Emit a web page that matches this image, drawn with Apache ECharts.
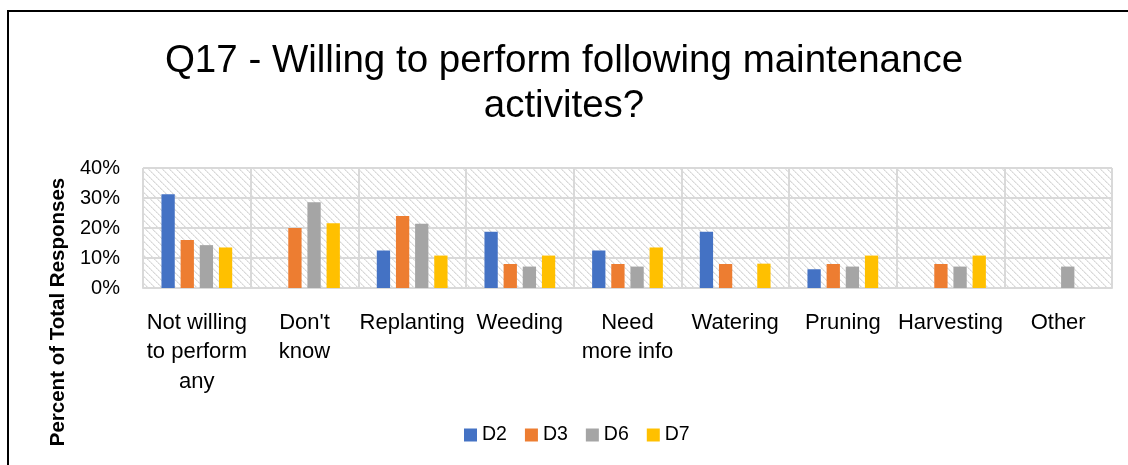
<!DOCTYPE html>
<html>
<head>
<meta charset="utf-8">
<script src="https://cdn.jsdelivr.net/npm/echarts@6/dist/echarts.min.js"></script>
<style>
html,body{margin:0;padding:0;background:#fff;}
#chart{width:1128px;height:465px;}
</style>
</head>
<body>
<div id="chart"></div>
<script>
const categories = ["Not willing\nto perform\nany", "Don't\nknow", "Replanting", "Weeding", "Need\nmore info", "Watering", "Pruning", "Harvesting", "Other"];
const seriesNames = ["D2", "D3", "D6", "D7"];
const d2 = [31.25, 0, 12.5, 18.75, 12.5, 18.75, 6.25, 0, 0];
const d3 = [16, 20, 24, 8, 8, 8, 8, 8, 0];
const d6 = [14.29, 28.57, 21.43, 7.14, 7.14, 0, 7.14, 7.14, 7.14];
const d7 = [13.51, 21.62, 10.81, 10.81, 13.51, 8.11, 10.81, 10.81, 0];
const yTicks = [0, 10, 20, 30, 40];
const titleText = "Q17 - Willing to perform following maintenance\nactivites?";
const yAxisTitle = "Percent of Total Responses";

const colors = ["#4472C4", "#ED7D31", "#A5A5A5", "#FFC000"];
const FONT = '"Liberation Sans", Arial, sans-serif';

// hatch pattern tile
const tile = document.createElement('canvas');
tile.width = 7; tile.height = 7;
const tctx = tile.getContext('2d');
tctx.fillStyle = '#ffffff';
tctx.fillRect(0, 0, 7, 7);
for (let i = 0; i < 7; i++) {
  tctx.fillStyle = (i % 2 === 0) ? '#d8d8d8' : '#e6e6e6';
  tctx.fillRect(i, i, 1, 1);
  tctx.fillStyle = '#ececec';
  tctx.fillRect((i + 1) % 7, i, 1, 1);
}

const chart = echarts.init(document.getElementById('chart'), null, {renderer: 'canvas'});
const data = [d2, d3, d6, d7];

chart.setOption({
  animation: false,
  backgroundColor: '#ffffff',
  title: {
    text: titleText,
    left: 'center',
    top: 39,
    padding: [0, 0, 0, 22],
    textStyle: {fontFamily: FONT, fontSize: 38.5, fontWeight: 'normal', color: '#000', lineHeight: 45}
  },
  legend: {
    data: seriesNames,
    left: 464,
    top: 425,
    padding: 0,
    icon: 'rect',
    itemWidth: 13,
    itemHeight: 13,
    itemGap: 18,
    textStyle: {fontFamily: FONT, fontSize: 19.5, color: '#000'}
  },
  grid: {
    left: 143, right: 16, top: 168, bottom: 177,
    show: true,
    borderWidth: 0,
    backgroundColor: {image: tile, repeat: 'repeat'}
  },
  xAxis: {
    type: 'category',
    data: categories,
    axisLine: {show: true, lineStyle: {color: '#d9d9d9', width: 2}},
    axisTick: {show: false},
    splitLine: {show: true, interval: 0, lineStyle: {color: '#d9d9d9', width: 2}},
    axisLabel: {interval: 0, margin: 20, fontFamily: FONT, fontSize: 22, lineHeight: 29.5, color: '#000', verticalAlign: 'top'}
  },
  yAxis: {
    type: 'value',
    min: yTicks[0],
    max: yTicks[yTicks.length - 1],
    interval: 10,
    axisLine: {show: false},
    axisTick: {show: false},
    splitLine: {show: true, lineStyle: {color: '#d9d9d9', width: 2}},
    axisLabel: {margin: 23, fontFamily: FONT, fontSize: 20, color: '#000', formatter: '{value}%'}
  },
  graphic: [
    {
      type: 'polyline',
      shape: {points: [[8, 470], [8, 11], [1132, 11]]},
      style: {stroke: '#000', lineWidth: 2, fill: null},
      silent: true
    },
    {
      type: 'text',
      x: 58, y: 312,
      rotation: Math.PI / 2,
      style: {text: yAxisTitle, fill: '#000', font: 'bold 20.5px ' + FONT, align: 'center', verticalAlign: 'middle'}
    }
  ],
  series: seriesNames.map((n, i) => ({
    name: n,
    type: 'bar',
    data: data[i],
    barWidth: 13.3,
    barGap: '44%',
    itemStyle: {color: colors[i]}
  }))
});
</script>
</body>
</html>
